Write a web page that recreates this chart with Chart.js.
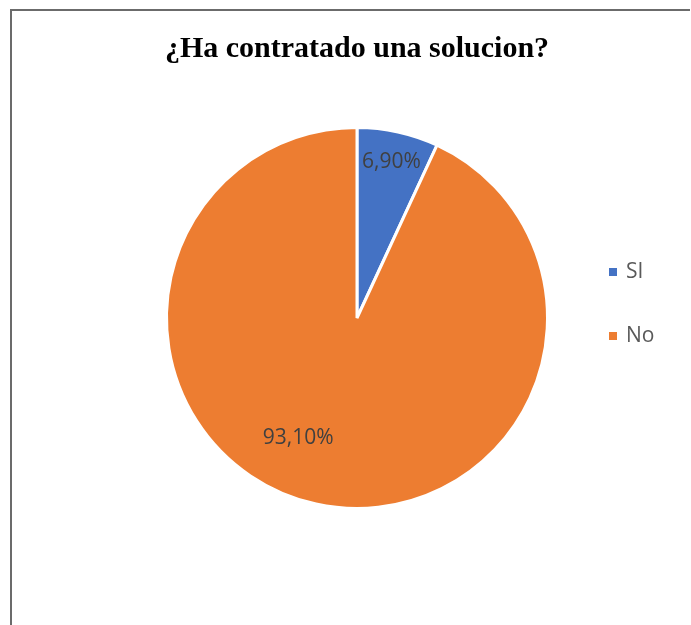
<!DOCTYPE html>
<html lang="es">
<head>
  <meta charset="UTF-8" />
  <title>¿Ha contratado una solucion?</title>
  <style>
    html, body { margin: 0; padding: 0; background: #fff; }
    #wrap { position: relative; width: 691px; height: 625px; }
  </style>
</head>
<body>
  <div id="wrap"><canvas id="pieChart" width="691" height="625"></canvas></div>

  <script src="https://cdn.jsdelivr.net/npm/chart.js"></script>
  <script>
    // data
    const chartTitle = '¿Ha contratado una solucion?';
    const categories = ['SI', 'No'];
    const percentValues = [6.9, 93.1];
    const sliceColors = ['#4472C4', '#ED7D31'];

    const fmt = v => v.toFixed(2).replace('.', ',') + '%';

    // frame, title, legend and value labels
    const decorPlugin = {
      id: 'decor',
      afterDraw(chart) {
        const ctx = chart.ctx;
        const meta = chart.getDatasetMeta(0);
        ctx.save();

        // frame (left and top edges)
        ctx.strokeStyle = '#6b6b6b';
        ctx.lineWidth = 2;
        ctx.beginPath();
        ctx.moveTo(11, 625);
        ctx.lineTo(11, 10);
        ctx.lineTo(690, 10);
        ctx.stroke();

        // title
        ctx.fillStyle = '#000';
        ctx.font = 'bold 30px "Liberation Serif", "Times New Roman", serif';
        ctx.textAlign = 'center';
        ctx.textBaseline = 'middle';
        ctx.fillText(chartTitle, 357, 49);

        // value labels
        ctx.font = '21px "Open Sans", sans-serif';
        ctx.fillStyle = '#404040';
        const labelPos = [
          { f: 0.84, da: 0 },
          { f: 0.70, da: 0.24 }
        ];
        meta.data.forEach((arc, i) => {
          const p = arc.getProps(['x', 'y', 'startAngle', 'endAngle', 'outerRadius'], true);
          const mid = (p.startAngle + p.endAngle) / 2 + labelPos[i].da;
          const r = p.outerRadius * labelPos[i].f;
          ctx.fillText(fmt(percentValues[i]), p.x + Math.cos(mid) * r, p.y + Math.sin(mid) * r);
        });

        // legend
        ctx.textAlign = 'left';
        const legendY = [272, 336];
        categories.forEach((c, i) => {
          ctx.fillStyle = sliceColors[i];
          ctx.fillRect(609, legendY[i] - 4, 8, 8);
          ctx.fillStyle = '#595959';
          ctx.fillText(c, 626, legendY[i]);
        });

        ctx.restore();
      }
    };

    new Chart(document.getElementById('pieChart'), {
      type: 'pie',
      data: {
        labels: categories,
        datasets: [{
          data: percentValues,
          backgroundColor: sliceColors,
          borderColor: '#ffffff',
          borderWidth: 3
        }]
      },
      options: {
        responsive: false,
        animation: false,
        layout: {
          padding: { left: 165, right: 142, top: 126, bottom: 115 }
        },
        plugins: {
          legend: { display: false },
          tooltip: { enabled: false }
        }
      },
      plugins: [decorPlugin]
    });
  </script>
</body>
</html>
